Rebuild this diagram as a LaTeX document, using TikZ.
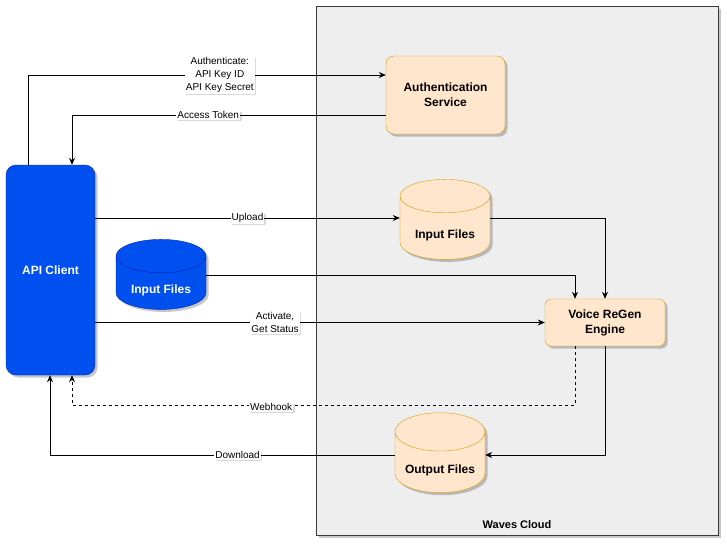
\documentclass[tikz,border=0pt]{standalone}
\usepackage{fontspec}
\setmainfont{Liberation Sans}
\usetikzlibrary{arrows.meta,positioning,calc,shapes.geometric,shadows}
\definecolor{clientblue}{HTML}{0050EF}
\definecolor{clientedge}{HTML}{001DBC}
\definecolor{svcfill}{HTML}{FFE6CC}
\definecolor{svcedge}{HTML}{D79B00}
\definecolor{zonefill}{HTML}{EEEEEE}
\definecolor{zoneedge}{HTML}{36393D}
\begin{document}
\begin{tikzpicture}[
  x=1pt,y=-1pt,
  softshadow/.style={drop shadow={shadow xshift=2.5pt,shadow yshift=-2.5pt,opacity=0.22,fill=black}},
  boldtxt/.style={font=\fontsize{12}{15}\selectfont\bfseries},
  zone/.style={draw=zoneedge,fill=zonefill,line width=0.8pt,inner sep=0pt,
    minimum width=402pt,minimum height=529pt,softshadow},
  client/.style={draw=clientedge,fill=clientblue,text=white,rounded corners=10pt,
    minimum width=89pt,minimum height=210pt,boldtxt,softshadow},
  svc/.style={draw=svcedge,fill=svcfill,rounded corners=8pt,align=center,boldtxt,softshadow},
  dbcyl/.style={cylinder,shape border rotate=90,aspect=0.5,draw,
    minimum width=90pt,minimum height=80pt,text height=14pt,text depth=0pt,boldtxt,softshadow},
  flow/.style={-{Stealth[length=7pt,width=6pt]},line width=0.8pt,black},
  lbl/.style={fill=white,inner sep=1pt,align=center,font=\fontsize{10}{13}\selectfont,
    drop shadow={shadow xshift=1.5pt,shadow yshift=-1.5pt,opacity=0.15,fill=black}},
]
  \useasboundingbox (0,0) rectangle (727,547);

  % Cloud side
  \node[zone] (cloud) at (517,270.5) {};
  \node[font=\fontsize{11}{13}\selectfont\bfseries,anchor=south]
    (cloudname) at ([yshift=3pt]cloud.south) {Waves Cloud};

  \node[svc,minimum width=119pt,minimum height=78pt] (auth) at (445.5,95) {Authentication\\Service};
  \node[dbcyl,draw=svcedge,fill=svcfill] (upin) at (445,231) {Input Files};
  \node[svc,rounded corners=6pt,minimum width=120pt,minimum height=47pt] (engine) at (605,322.5) {Voice ReGen\\Engine};
  \node[dbcyl,draw=svcedge,fill=svcfill] (outf) at (440,466) {Output Files};

  % Client side
  \node[client] (client) at (50.5,270) {API Client};
  \node[dbcyl,draw=clientedge,fill=clientblue,text=white,minimum height=70pt] (clin) at (161,286) {Input Files};

  % Authentication round trip
  \draw[flow] ([xshift=-22.5pt]client.north) |-
    node[lbl,pos=0.768]{Authenticate:\\API Key ID\\API Key Secret} ([yshift=20pt]auth.west);
  \draw[flow] ([yshift=-20pt]auth.west) -|
    node[lbl,pos=0.283]{Access Token} ([xshift=21.5pt]client.north);

  % Files into the engine
  \draw[flow] ([yshift=13pt]client.east |- upin.west) -- node[lbl,pos=0.5]{Upload} ([yshift=13pt]upin.west);
  \draw[flow] ([yshift=13pt]upin.east) -| (engine.north);
  \draw[flow] ([yshift=11pt]clin.east) -| ([xshift=-30pt]engine.north);

  % Control
  \draw[flow] (client.east |- engine.west) -- node[lbl,pos=0.4]{Activate,\\Get Status} (engine.west);
  \draw[flow,dashed] ([xshift=-30pt]engine.south) -- ++(0,59) -|
    node[lbl,pos=0.302,yshift=-2pt]{Webhook} ([xshift=21.5pt]client.south);

  % Results back
  \draw[flow] (engine.south) |- ([yshift=11pt]outf.east);
  \draw[flow] ([yshift=11pt]outf.west) -| node[lbl,pos=0.228]{Download} ([xshift=-0.5pt]client.south);
\end{tikzpicture}
\end{document}
